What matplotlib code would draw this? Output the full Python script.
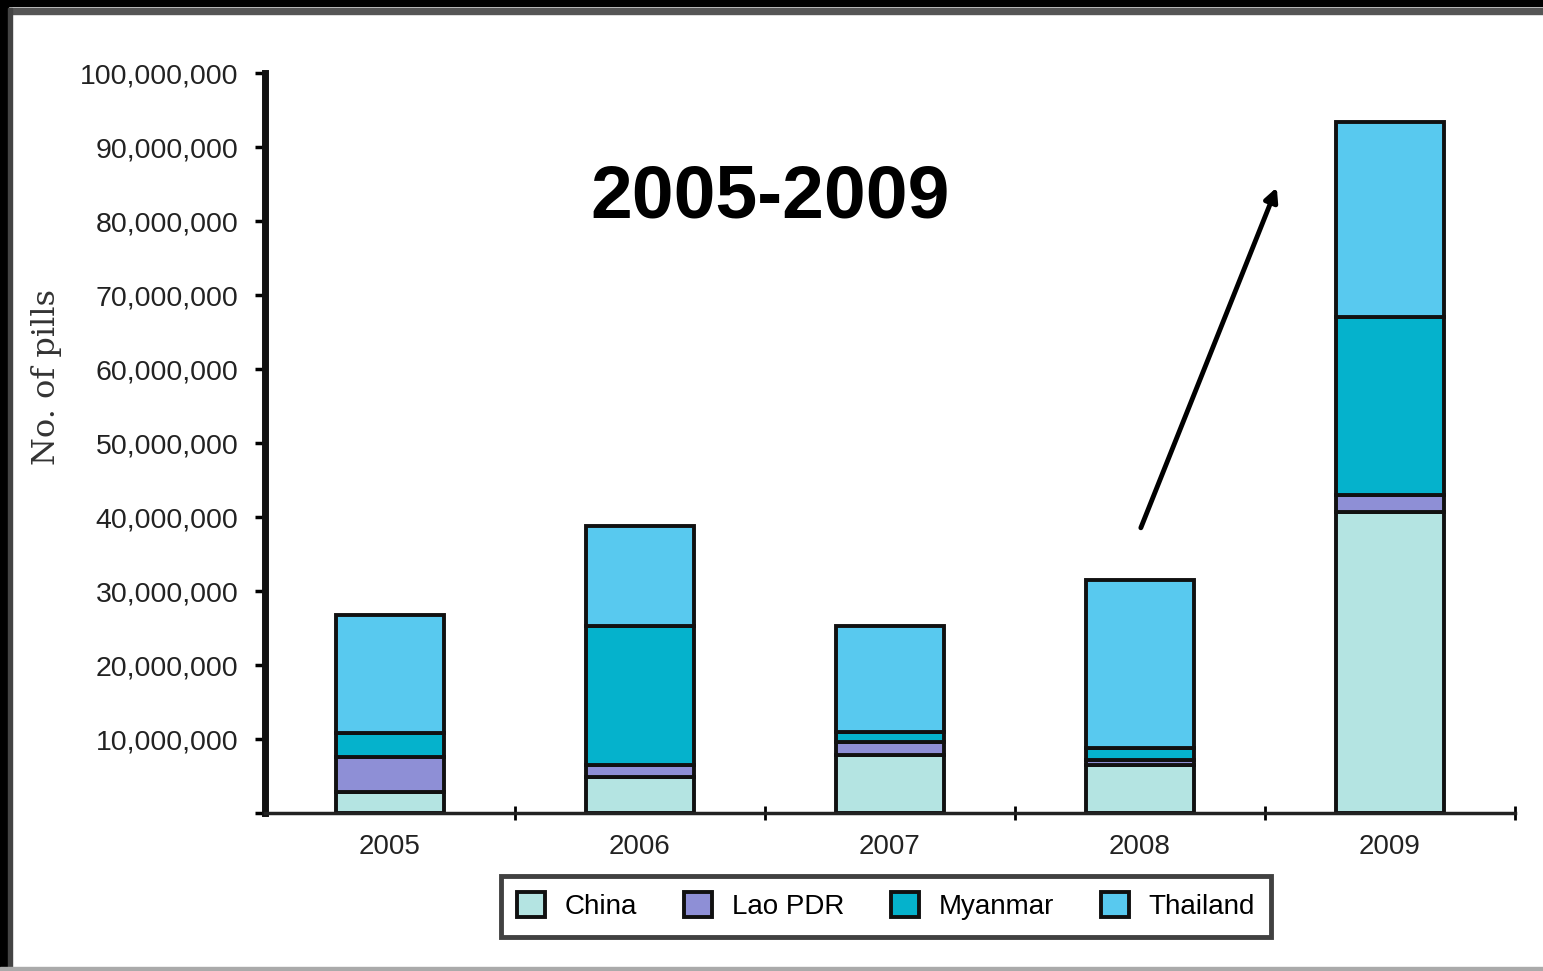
import numpy as np
import matplotlib.pyplot as plt
from matplotlib.patches import Rectangle
from matplotlib.ticker import FuncFormatter

years = ['2005', '2006', '2007', '2008', '2009']
china = [2.8e6, 4.9e6, 7.8e6, 6.5e6, 40.7e6]
lao = [4.8e6, 1.6e6, 1.8e6, 0.7e6, 2.3e6]
myanmar = [3.2e6, 18.8e6, 1.3e6, 1.6e6, 24.0e6]
thailand = [16.0e6, 13.5e6, 14.4e6, 22.7e6, 26.4e6]

series = [('China', china, '#b4e4e2'),
          ('Lao PDR', lao, '#8e8fd6'),
          ('Myanmar', myanmar, '#05b2cc'),
          ('Thailand', thailand, '#58c9ef')]

W, H = 1543, 971
fig = plt.figure(figsize=(W / 100, H / 100), dpi=100)
ax = fig.add_axes([0.1717, 0.1627, 0.81, 0.762])

x = np.arange(len(years))
bottom = np.zeros(len(years))
for name, vals, col in series:
    ax.bar(x, vals, 0.43, bottom=bottom, color=col, edgecolor='#111111',
           linewidth=2.8, label=name)
    bottom += np.array(vals)

ax.set_xlim(-0.5, 4.5)
ax.set_ylim(0, 100e6)
ax.set_yticks(np.arange(0, 100e6 + 1, 10e6))
ax.yaxis.set_major_formatter(FuncFormatter(lambda v, p: '' if v == 0 else f'{int(v):,}'))
ax.set_xticks(x)
ax.set_xticklabels(years)
ax.set_xticks(np.arange(0.5, 5, 1), minor=True)
ax.tick_params(axis='x', which='major', length=0, pad=15, labelsize=20, labelcolor='#222222')
ax.tick_params(axis='x', which='minor', length=10, width=2, direction='inout')
ax.tick_params(axis='y', length=7, width=2.5, labelsize=20.5, labelcolor='#222222', pad=12)
for lab in ax.get_xticklabels() + ax.get_yticklabels():
    lab.set_family('Liberation Sans')

for s in ['top', 'right']:
    ax.spines[s].set_visible(False)
ax.spines['left'].set_linewidth(5)
ax.spines['bottom'].set_linewidth(2.5)
ax.spines['left'].set_color('#111111')
ax.spines['bottom'].set_color('#222222')

ax.set_ylabel('No. of pills', family='DejaVu Serif', fontsize=23, color='#333333')
ax.yaxis.set_label_coords(-0.162, 0.589)

fig.text(0.499, 0.796, '2005-2009', fontsize=54, fontweight='bold', ha='center', va='center',
         family='Liberation Sans')
ax.annotate('', xy=(3.552, 84.9e6), xytext=(3.0, 38.2e6),
            arrowprops=dict(arrowstyle='-|>', color='black', lw=3.5, mutation_scale=20))

leg = fig.legend(loc='center', bbox_to_anchor=(0.5742, 0.0665), ncol=4, frameon=True,
                 fancybox=False, edgecolor='#111111', handlelength=1.0,
                 handleheight=1.0, columnspacing=1.7, borderpad=0.6, handletextpad=0.7,
                 prop={'family': 'Liberation Sans', 'size': 20})
leg.get_frame().set_linewidth(3.5)

# scanned frame edges
def px_rect(x0, y0, w, h, color):
    fig.patches.append(Rectangle((x0 / W, 1 - (y0 + h) / H), w / W, h / H,
                                 transform=fig.transFigure, color=color, zorder=10))

px_rect(0, 0, W, 6, 'black')
px_rect(0, 8, W, 6, '#555555')
px_rect(0, 0, 8, H, 'black')
px_rect(8, 8, 4, H - 8, '#444444')
px_rect(0, H - 4, W, 4, '#aaaaaa')

fig.savefig('out.png', dpi=100)
